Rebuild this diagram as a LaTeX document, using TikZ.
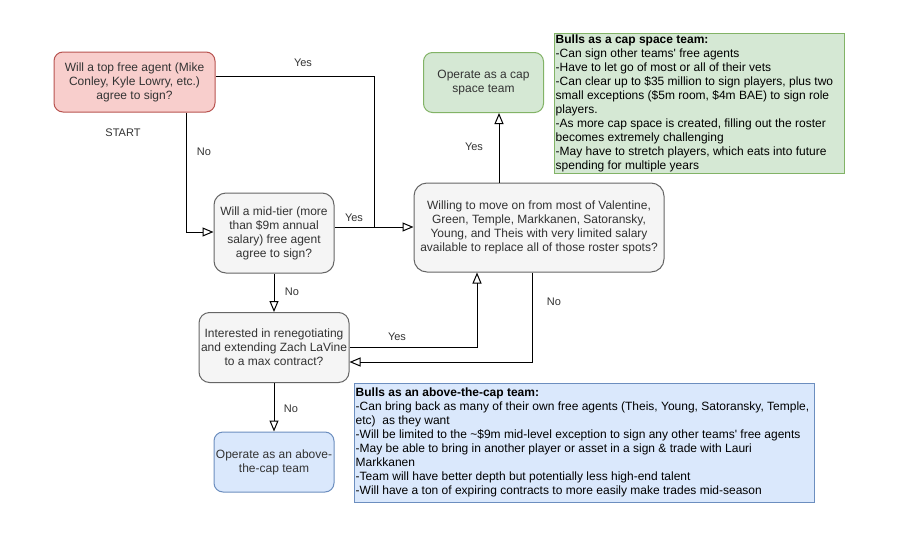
\documentclass[tikz,border=0pt]{standalone}
\usepackage{fontspec}
\setmainfont{Liberation Sans}[Ligatures=TeXOff]
\usetikzlibrary{arrows.meta,calc}
\definecolor{redfill}{HTML}{F8CECC}
\definecolor{redline}{HTML}{B85450}
\definecolor{grayfill}{HTML}{F5F5F5}
\definecolor{grayline}{HTML}{666666}
\definecolor{greenfill}{HTML}{D5E8D4}
\definecolor{greenline}{HTML}{82B366}
\definecolor{bluefill}{HTML}{DAE8FC}
\definecolor{blueline}{HTML}{6C8EBF}
\definecolor{txtgray}{HTML}{333333}
\begin{document}
\begin{tikzpicture}[x=1pt,y=-1pt,
  box/.style={draw, line width=1pt, rectangle, align=center, inner sep=0pt,
    font=\fontsize{12}{14}\selectfont, text=txtgray},
  redbox/.style={box, fill=redfill, draw=redline},
  graybox/.style={box, fill=grayfill, draw=grayline},
  greenbox/.style={box, fill=greenfill, draw=greenline},
  bluebox/.style={box, fill=bluefill, draw=blueline},
  notebox/.style={draw, line width=1pt, rectangle, inner sep=0pt},
  notetext/.style={anchor=west, align=left, inner sep=0pt,
    font=\fontsize{12}{14}\selectfont, text=black},
  arr/.style={draw=black, line width=1pt, -{Triangle[open, length=11pt, width=9pt]}},
  line/.style={draw=black, line width=1pt},
  lbl/.style={font=\fontsize{11}{13}\selectfont, inner sep=0pt, text=txtgray}
]
\fill[white] (0,0) rectangle (900,536);
\useasboundingbox (0,0) rectangle (900,536);

% nodes
\node[redbox, minimum width=161pt, minimum height=60pt, rounded corners=9pt]
  (A) at (134.5,82) {Will a top free agent (Mike\\Conley, Kyle Lowry, etc.)\\agree to sign?};
\node[graybox, minimum width=120pt, minimum height=80pt, rounded corners=12pt]
  (B) at (274,233) {Will a mid-tier (more\\than \$9m annual\\salary) free agent\\agree to sign?};
\node[graybox, minimum width=250pt, minimum height=89pt, rounded corners=13pt]
  (C) at (539,227.5) {Willing to move on from most of Valentine,\\Green, Temple, Markkanen, Satoransky,\\Young, and Theis with very limited salary\\available to replace all of those roster spots?};
\node[greenbox, minimum width=120pt, minimum height=60pt, rounded corners=9pt]
  (D) at (483.5,82.5) {Operate as a cap\\space team};
\node[graybox, minimum width=150pt, minimum height=70pt, rounded corners=10.5pt]
  (E) at (274,347.5) {Interested in renegotiating\\and extending Zach LaVine\\to a max contract?};
\node[bluebox, minimum width=120pt, minimum height=60pt, rounded corners=9pt]
  (F) at (274,462) {Operate as an above-\\the-cap team};

% notes
\node[notebox, fill=greenfill, draw=greenline, minimum width=290pt, minimum height=140pt]
  (G) at (699,103) {};
\node[notetext] (Gt) at ([xshift=2pt]G.west) {\textbf{Bulls as a cap space team:}\\
-Can sign other teams\textquotesingle{} free agents\\
-Have to let go of most or all of their vets\\
-Can clear up to \$35 million to sign players, plus two\\
small exceptions (\$5m room, \$4m BAE) to sign role\\
players.\\
-As more cap space is created, filling out the roster\\
becomes extremely challenging\\
-May have to stretch players, which eats into future\\
spending for multiple years};

\node[notebox, fill=bluefill, draw=blueline, minimum width=460pt, minimum height=119pt]
  (H) at (584,442.5) {};
\node[notetext] (Ht) at ([xshift=2pt]H.west) {\textbf{Bulls as an above-the-cap team:}\\
-Can bring back as many of their own free agents (Theis, Young, Satoransky, Temple,\\
etc)\ \ as they want\\
-Will be limited to the \textasciitilde\$9m mid-level exception to sign any other teams\textquotesingle{} free agents\\
-May be able to bring in another player or asset in a sign \& trade with Lauri\\
Markkanen\\
-Team will have better depth but potentially less high-end talent\\
-Will have a ton of expiring contracts to more easily make trades mid-season};

% connectors
\coordinate (j) at (374,227);
\draw[arr] ([xshift=51.5pt]A.south) |- ([yshift=1pt]B.west);
\draw[line] ([yshift=6pt]A.east) -| (j);
\draw[arr] ([yshift=6pt]B.east) -- ([yshift=6pt]B.east -| C.west);
\draw[arr] ([xshift=-40pt]C.north) -- ([xshift=-40pt]C.north |- D.south);
\draw[arr] (B.south) -- (E.north);
\draw[arr] (E.east) -| ([xshift=-62pt]C.south);
\draw[arr] ([xshift=-7pt]C.south) |- ([yshift=-14.5pt]E.east);
\draw[arr] (E.south) -- (F.north);

% labels
\node[lbl] (l1) at (303,63) {Yes};
\node[lbl] (l2) at (204,152) {No};
\node[lbl] (l3) at (354,218) {Yes};
\node[lbl] (l4) at (474,147) {Yes};
\node[lbl] (l5) at (292,292) {No};
\node[lbl] (l6) at (397,337) {Yes};
\node[lbl] (l7) at (554,302) {No};
\node[lbl] (l8) at (291,409) {No};
\node[lbl] (start) at (123,133) {START};
\end{tikzpicture}
\end{document}
